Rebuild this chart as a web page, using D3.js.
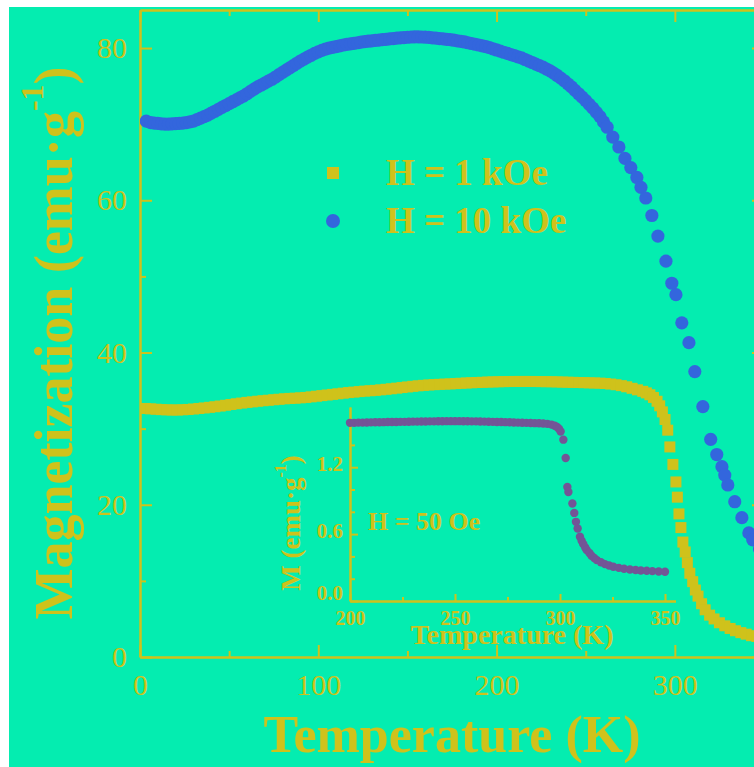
<!DOCTYPE html>
<html><head><meta charset="utf-8">
<script src="https://cdn.jsdelivr.net/npm/d3@7"></script>
<style>html,body{margin:0;padding:0;background:#fff}svg{display:block}</style>
</head><body>
<svg id="chart" width="754" height="767"></svg>
<script>
// ---------- data ----------
const xTicksMain = [0, 100, 200, 300];
const yTicksMain = [0, 20, 40, 60, 80];
const xTicksInset = [200, 250, 300, 350];
const yTicksInset = [0.0, 0.6, 1.2];
const legendLabels = ["H = 1 kOe", "H = 10 kOe"];
const insetLabel = "H = 50 Oe";

// H = 1 kOe (squares)
const T_1kOe = [3,6,9,12,15,18,21,24,27,30,33,36,39,42,45,48,51,54,57,60,63,66,69,72,75,78,81,84,87,90,93,96,99,102,105,108,111,114,117,120,123,126,129,132,135,138,141,144,147,150,153,156,159,162,165,168,171,174,177,180,183,186,189,192,195,198,201,204,207,210,213,216,219,222,225,228,231,234,237,240,243,246,249,252,255,258,261,264,267,270,273,276,279,282,284,286,288,290,291.5,293,294.5,296,297.2,298.9,300.6,301.4,302.3,303.4,304.5,305.8,307,308.4,310,311.5,313,315,317,319.5,322,325,328,331,334,337,340,343,346,349];
const M_1kOe = [32.65,32.6,32.55,32.5,32.47,32.45,32.45,32.48,32.52,32.58,32.65,32.72,32.8,32.88,32.97,33.07,33.17,33.27,33.36,33.45,33.52,33.6,33.67,33.73,33.8,33.86,33.92,33.97,34.0,34.05,34.1,34.18,34.26,34.34,34.42,34.5,34.58,34.66,34.74,34.8,34.87,34.93,34.98,35.03,35.1,35.17,35.24,35.32,35.4,35.48,35.56,35.63,35.69,35.74,35.78,35.82,35.85,35.88,35.92,35.96,36.0,36.03,36.06,36.09,36.12,36.14,36.16,36.18,36.19,36.2,36.2,36.2,36.2,36.19,36.18,36.17,36.16,36.14,36.12,36.1,36.08,36.06,36.04,36.02,36.0,35.98,35.93,35.86,35.77,35.65,35.5,35.3,35.1,34.9,34.7,34.45,34.1,33.6,33.0,32.2,31.2,29.8,27.6,25.3,23.0,21.0,18.8,17.0,15.1,13.8,12.4,11.0,9.9,8.8,8.0,7.0,6.2,5.5,5.0,4.5,4.1,3.75,3.45,3.2,3.0,2.8,2.7,2.6];

// H = 10 kOe (circles)
const T_10kOe = [3.5,6,8,10,12,14,16,18,20,22,24,26,28,30,32,34,36,38,40,42,44,46,48,50,52,54,56,58,60,62,64,66,68,70,72,74,76,78,80,82,84,86,88,90,92,94,96,98,100,102,104,106,108,110,112,114,116,118,120,122,124,126,128,130,132,134,136,138,140,142,144,146,148,150,152,154,156,158,160,162,164,166,168,170,172,174,176,178,180,182,184,186,188,190,192,194,196,198,200,202,204,206,208,210,212,214,216,218,220,222,224,226,228,230,232,234,236,238,240,242,244,246,248,250,252,254,256,258,260,262,265.2,268.6,272,275.3,278.7,281,283.7,287.1,290.5,295,298.3,300.6,303.9,307.9,311.2,315.7,320.1,323.5,326.4,328,329.7,333.6,337.6,341.5,343.7,347.5];
const M_10kOe = [70.4,70.2,70.15,70.1,70.05,70.0,70.0,70.05,70.07,70.1,70.15,70.2,70.3,70.4,70.6,70.8,71.0,71.2,71.45,71.7,71.95,72.2,72.45,72.7,72.95,73.2,73.45,73.7,74.0,74.3,74.6,74.9,75.15,75.4,75.65,75.9,76.2,76.5,76.8,77.1,77.4,77.7,78.0,78.3,78.55,78.8,79.05,79.3,79.5,79.7,79.85,80.0,80.1,80.2,80.3,80.4,80.48,80.55,80.62,80.7,80.78,80.85,80.9,80.95,81.0,81.05,81.1,81.15,81.2,81.25,81.3,81.35,81.38,81.42,81.45,81.48,81.47,81.45,81.43,81.4,81.35,81.3,81.25,81.2,81.15,81.1,81.03,80.95,80.88,80.8,80.7,80.6,80.5,80.4,80.3,80.2,80.05,79.9,79.75,79.6,79.45,79.3,79.15,79.0,78.85,78.7,78.5,78.3,78.1,77.9,77.7,77.5,77.25,77.0,76.7,76.4,76.05,75.7,75.3,74.9,74.45,74.0,73.55,73.1,72.6,72.1,71.55,71.0,70.3,69.6,68.3,67.0,65.5,64.3,63.0,61.7,60.3,58.0,55.3,52.0,49.1,47.6,43.9,41.3,37.5,32.9,28.6,26.6,25.0,23.9,22.6,20.4,18.3,16.3,15.4,14.2];

// Inset: H = 50 Oe
const T_50Oe = [200,202,204,206,208,210,212,214,216,218,220,222,224,226,228,230,232,234,236,238,240,242,244,246,248,250,252,254,256,258,260,262,264,266,268,270,272,274,276,278,280,282,284,286,288,290,292,294,296,297.5,298.6,299.5,300.3,301.6,302.7,303.5,304,305.9,306.8,307.6,308.4,309.5,310.3,311.1,312,312.7,314,315,316.3,317.5,319.5,321.4,323.4,325.4,328,330.5,333.3,336,338.5,341.3,344,347,350];
const M_50Oe = [1.598,1.598,1.600,1.600,1.601,1.602,1.603,1.603,1.604,1.605,1.605,1.606,1.607,1.607,1.608,1.609,1.609,1.610,1.610,1.611,1.611,1.612,1.612,1.613,1.613,1.613,1.613,1.612,1.612,1.611,1.611,1.610,1.609,1.608,1.607,1.606,1.605,1.604,1.603,1.601,1.600,1.599,1.598,1.596,1.595,1.594,1.592,1.589,1.582,1.572,1.56,1.545,1.52,1.447,1.283,1.023,0.978,0.874,0.79,0.71,0.65,0.576,0.54,0.51,0.48,0.457,0.43,0.406,0.385,0.367,0.347,0.331,0.318,0.307,0.297,0.289,0.283,0.278,0.274,0.271,0.268,0.265,0.262];

// ---------- style ----------
const BG = "#04EDB0", YEL = "#CFC21B", BLUE = "#3366DD", PURP = "#735596";
const FONT = "'Liberation Serif','Times New Roman',serif";

const svg = d3.select("#chart");
svg.append("rect").attr("x", 9).attr("y", 7).attr("width", 745).attr("height", 760).attr("fill", BG);

// ---------- main scales ----------
const x = d3.scaleLinear().domain([0, 350]).range([140, 764]);
const y = d3.scaleLinear().domain([0, 85]).range([657, 10]);

function styleAxis(g, size, weight) {
  g.select(".domain").attr("stroke", YEL).attr("stroke-width", 2);
  g.selectAll(".tick line").attr("stroke", YEL).attr("stroke-width", 2);
  g.selectAll(".tick text").attr("fill", YEL).attr("font-family", FONT)
    .attr("font-size", size).attr("font-weight", weight);
  g.attr("font-family", null).attr("font-size", null);
}

// minor ticks
const minorX = [50, 150, 250, 350];
const minorY = [10, 30, 50, 70];
svg.append("g").attr("transform", "translate(0,657)")
  .call(d3.axisBottom(x).tickValues(minorX).tickSizeInner(-6).tickSizeOuter(0).tickFormat(""))
  .call(g => styleAxis(g, 30, "normal"));
svg.append("g").attr("transform", "translate(0,10)")
  .call(d3.axisTop(x).tickValues(minorX).tickSizeInner(-6).tickSizeOuter(0).tickFormat(""))
  .call(g => styleAxis(g, 30, "normal"));
svg.append("g").attr("transform", "translate(140,0)")
  .call(d3.axisLeft(y).tickValues(minorY).tickSizeInner(-6).tickSizeOuter(0).tickFormat(""))
  .call(g => styleAxis(g, 30, "normal"));
svg.append("g").attr("transform", "translate(764,0)")
  .call(d3.axisRight(y).tickValues(minorY).tickSizeInner(-6).tickSizeOuter(0).tickFormat(""))
  .call(g => styleAxis(g, 30, "normal"));

// major axes
svg.append("g").attr("transform", "translate(0,657)")
  .call(d3.axisBottom(x).tickValues(xTicksMain).tickSizeInner(-12).tickSizeOuter(0).tickPadding(17).tickFormat(d3.format("d")))
  .call(g => styleAxis(g, 30, "normal"));
svg.append("g").attr("transform", "translate(0,10)")
  .call(d3.axisTop(x).tickValues(xTicksMain).tickSizeInner(-12).tickSizeOuter(0).tickFormat(""))
  .call(g => styleAxis(g, 30, "normal"));
svg.append("g").attr("transform", "translate(140,0)")
  .call(d3.axisLeft(y).tickValues(yTicksMain).tickSizeInner(-12).tickSizeOuter(0).tickPadding(13).tickFormat(d3.format("d")))
  .call(g => styleAxis(g, 30, "normal"));
svg.append("g").attr("transform", "translate(764,0)")
  .call(d3.axisRight(y).tickValues(yTicksMain).tickSizeInner(-12).tickSizeOuter(0).tickFormat(""))
  .call(g => styleAxis(g, 30, "normal"));

// clip
svg.append("defs").append("clipPath").attr("id", "plotClip")
  .append("rect").attr("x", 140).attr("y", 10).attr("width", 624).attr("height", 647);

const plot = svg.append("g").attr("clip-path", "url(#plotClip)");
const d1 = T_1kOe.map((t, i) => ({t, m: M_1kOe[i]}));
const d10 = T_10kOe.map((t, i) => ({t, m: M_10kOe[i]}));
const SQ = 11;
plot.append("g").selectAll("rect").data(d1).join("rect")
  .attr("x", d => x(d.t) - SQ / 2).attr("y", d => y(d.m) - SQ / 2)
  .attr("width", SQ).attr("height", SQ).attr("fill", YEL);
plot.append("g").selectAll("circle").data(d10).join("circle")
  .attr("cx", d => x(d.t)).attr("cy", d => y(d.m)).attr("r", 6.6).attr("fill", BLUE);

// legend
svg.append("rect").attr("x", 327).attr("y", 167).attr("width", 12).attr("height", 12).attr("fill", YEL);
svg.append("circle").attr("cx", 333).attr("cy", 221).attr("r", 7).attr("fill", BLUE);
svg.selectAll("text.leg").data(legendLabels).join("text").attr("class", "leg")
  .attr("x", 386).attr("y", (d, i) => 185 + i * 48)
  .attr("font-family", FONT).attr("font-weight", "bold").attr("font-size", 37)
  .attr("fill", YEL).text(d => d);

// axis titles
svg.append("text").attr("x", 452).attr("y", 752).attr("text-anchor", "middle")
  .attr("font-family", FONT).attr("font-weight", "bold").attr("font-size", 52)
  .attr("fill", YEL).text("Temperature (K)");
const yt = svg.append("text").attr("transform", "translate(72,343) rotate(-90)")
  .attr("text-anchor", "middle").attr("font-family", FONT).attr("font-weight", "bold")
  .attr("font-size", 54).attr("fill", YEL);
yt.append("tspan").text("Magnetization (emu\u00B7g");
yt.append("tspan").attr("font-size", 32).attr("dy", -29).text("-1");
yt.append("tspan").attr("dy", 29).text(")");

// ---------- inset ----------
const xi = d3.scaleLinear().domain([200, 355]).range([350, 675.5]);
const yi = d3.scaleLinear().domain([0, 1.74]).range([601, 407]);
const inset = svg.append("g");
inset.append("g").attr("transform", "translate(0,601)")
  .call(d3.axisBottom(xi).tickValues([225, 275, 325]).tickSizeInner(-4).tickSizeOuter(0).tickFormat(""))
  .call(g => styleAxis(g, 21, "bold"));
inset.append("g").attr("transform", "translate(350,0)")
  .call(d3.axisLeft(yi).tickValues([0.2, 0.4, 0.8, 1.0, 1.4, 1.6]).tickSizeInner(-5).tickSizeOuter(0).tickFormat(""))
  .call(g => styleAxis(g, 21, "bold"));
inset.append("g").attr("transform", "translate(0,601)")
  .call(d3.axisBottom(xi).tickValues(xTicksInset).tickSizeInner(-7).tickSizeOuter(0).tickPadding(10).tickFormat(d3.format("d")))
  .call(g => styleAxis(g, 20, "bold"));
inset.append("g").attr("transform", "translate(350,0)")
  .call(d3.axisLeft(yi).tickValues(yTicksInset).tickSizeInner(-8).tickSizeOuter(0).tickPadding(7).tickFormat(d3.format(".1f")))
  .call(g => styleAxis(g, 21, "bold"))
  .call(g => g.selectAll(".tick text").attr("dy", (d) => d === 0 ? "-0.05em" : "0.15em"));

const d50 = T_50Oe.map((t, i) => ({t, m: M_50Oe[i]}));
inset.append("g").selectAll("circle").data(d50).join("circle")
  .attr("cx", d => xi(d.t)).attr("cy", d => yi(d.m)).attr("r", 4.2).attr("fill", PURP);

inset.append("text").attr("x", 512).attr("y", 644).attr("text-anchor", "middle")
  .attr("font-family", FONT).attr("font-weight", "bold").attr("font-size", 28)
  .attr("fill", YEL).text("Temperature (K)");
const iyt = inset.append("text").attr("transform", "translate(300,523) rotate(-90)")
  .attr("text-anchor", "middle").attr("font-family", FONT).attr("font-weight", "bold")
  .attr("font-size", 27).attr("fill", YEL);
iyt.append("tspan").text("M (emu\u00B7g");
iyt.append("tspan").attr("font-size", 16).attr("dy", -14).text("-1");
iyt.append("tspan").attr("dy", 14).text(")");
inset.append("text").attr("x", 368).attr("y", 530)
  .attr("font-family", FONT).attr("font-weight", "bold").attr("font-size", 26)
  .attr("fill", YEL).text(insetLabel);
</script>
</body></html>
